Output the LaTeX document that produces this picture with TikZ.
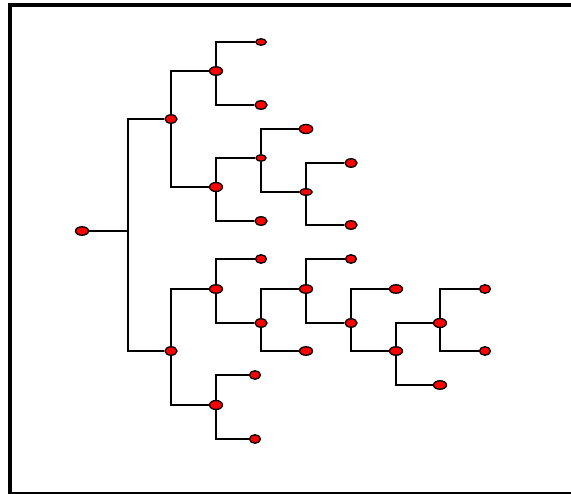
\documentclass[tikz,border=0pt]{standalone}
\usetikzlibrary{shapes.geometric}
\begin{document}
\begin{tikzpicture}[x=1pt,y=-1pt,
  dot/.style={ellipse,draw=black,fill=red,line width=1.3pt,inner sep=0pt,minimum width=12pt,minimum height=8.5pt},
  sm/.style={minimum width=10.5pt,minimum height=6.5pt},
  edge/.style={line width=2pt,line join=miter}]
\useasboundingbox (0,0) rectangle (571,494);
\fill[white] (0,0) rectangle (571,494);
% frame
\draw[line width=4pt] (8,5) -- (571,5);
\draw[line width=4pt] (10,5) -- (10,494);
\draw[line width=1.3pt] (10,493) -- (571,493);
% nodes
\node[dot,minimum width=13pt] (root) at (82,231) {};
\node[dot] (a) at (171,119) {};
\node[dot] (b) at (171,351) {};
\node[dot,minimum width=13pt] (a1) at (216,71) {};
\node[dot,minimum width=13pt,minimum height=9pt] (a2) at (216,187) {};
\node[dot,sm] (a1u) at (261,42) {};
\node[dot] (a1d) at (261,105) {};
\node[dot,sm,minimum width=10pt] (a2u) at (261,158) {};
\node[dot] (a2d) at (261,221) {};
\node[dot,minimum width=13.5pt,minimum height=9pt] (a2uu) at (306,129) {};
\node[dot,minimum width=12.5pt,minimum height=6.5pt] (a2ud) at (306,192) {};
\node[dot] (a2udu) at (351,163) {};
\node[dot] (a2udd) at (351,225) {};
\node[dot,minimum width=13pt] (b1) at (216,289) {};
\node[dot,minimum width=13pt,minimum height=9pt] (b2) at (216,405) {};
\node[dot,minimum width=11pt] (b1u) at (261,259) {};
\node[dot] (b1d) at (261,323) {};
\node[dot,minimum width=13pt] (b1du) at (306,289) {};
\node[dot,minimum width=13pt] (b1dd) at (306,351) {};
\node[dot,minimum width=11pt] (c1u) at (351,259) {};
\node[dot] (c1d) at (351,323) {};
\node[dot,minimum width=13pt] (c2u) at (396,289) {};
\node[dot,minimum width=13pt] (c2d) at (396,351) {};
\node[dot,minimum width=13pt,minimum height=9pt] (d1) at (440,323) {};
\node[dot,minimum width=13pt] (d2) at (440,385) {};
\node[dot,minimum width=11pt] (e1) at (485,289) {};
\node[dot,minimum width=11pt] (e2) at (485,351) {};
\node[dot,minimum width=11pt] (b2u) at (255,375) {};
\node[dot,minimum width=11pt] (b2d) at (255,439) {};
% connectors
\coordinate (rj) at (128,231);
\draw[edge] (root) -- (rj);
\draw[edge] (rj) |- (a);
\draw[edge] (rj) |- (b);
\foreach \p/\c in {a/a1,a/a2,a1/a1u,a1/a1d,a2/a2u,a2/a2d,a2u/a2uu,a2u/a2ud,a2ud/a2udu,a2ud/a2udd,
  b/b1,b/b2,b1/b1u,b1/b1d,b1d/b1du,b1d/b1dd,b1du/c1u,b1du/c1d,c1d/c2u,c1d/c2d,c2d/d1,c2d/d2,d1/e1,d1/e2,b2/b2u,b2/b2d}
  \draw[edge] (\p) |- (\c);
\end{tikzpicture}
\end{document}
